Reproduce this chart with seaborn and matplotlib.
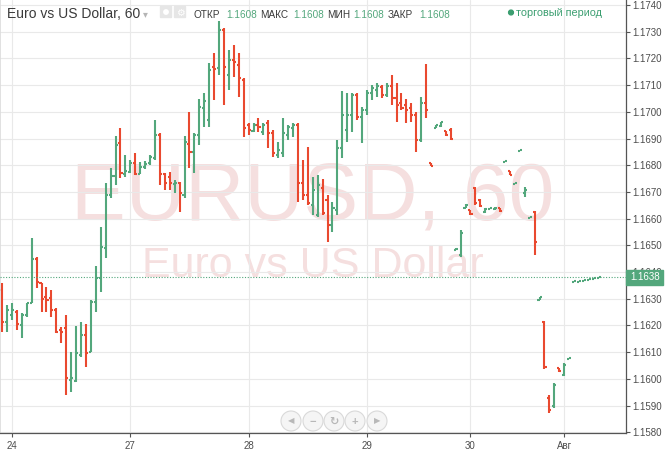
import numpy as np
import pandas as pd
import matplotlib
matplotlib.use('Agg')
import matplotlib.pyplot as plt
import seaborn as sns
from matplotlib.patches import Circle, Rectangle, FancyBboxPatch
from matplotlib.transforms import blended_transform_factory

# hourly EUR/USD bars, first bar is two hours before the "24" tick
first_bar = -2

opens = [
    1.16333, 1.16213, 1.16239, 1.16250, 1.16202, 1.16239, 1.16284, 1.16449, 1.16359, 1.16306,
    1.16303, 1.16258, 1.16183, 1.16190, 1.15996, 1.15992, 1.16089, 1.16164, 1.16100, 1.16288,
    1.16378, 1.16490, 1.16688, 1.16760, 1.16883, 1.16767, 1.16775, 1.16808, 1.16767, 1.16793,
    1.16808, 1.16827, 1.16913, 1.16767, 1.16756, 1.16730, 1.16733, 1.16688, 1.16879, 1.16849,
    1.16913, 1.17014, 1.16969, 1.17168, 1.17164, 1.17306, 1.17138, 1.17194, 1.17175, 1.17119,
    1.16951, 1.16928, 1.16951, 1.16924, 1.16958, 1.16921, 1.16838, 1.16846, 1.16913, 1.16939,
    1.16951, 1.16733, 1.16688, 1.16651, 1.16614, 1.16715, 1.16670, 1.16576, 1.16632, 1.16864,
    1.16932, 1.16988, 1.17063, 1.16981, 1.17007, 1.17070, 1.17082, 1.17093, 1.17063, 1.17097,
    1.17052, 1.17033, 1.17025, 1.17014, 1.16988, 1.16894, 1.17033, 1.16808, 1.16939, 1.16947,
    1.16928, 1.16932, 1.16483, 1.16464, 1.16640, 1.16632, 1.16715, 1.16670, 1.16625, 1.16636,
    1.16636, 1.16640, 1.16812, 1.16778, 1.16730, 1.16853, 1.16696, 1.16602, 1.16625, 1.16295,
    1.16213, 1.15928, 1.15898, 1.16041, 1.16014, 1.16074, 1.16363, 1.16363, 1.16366, 1.16370,
    1.16375, 1.16378,
]
highs = [
    1.16359, 1.16276, 1.16284, 1.16258, 1.16247, 1.16284, 1.16527, 1.16456, 1.16359, 1.16344,
    1.16333, 1.16265, 1.16194, 1.16239, 1.16100, 1.16198, 1.16213, 1.16205, 1.16295, 1.16423,
    1.16569, 1.16733, 1.16790, 1.16909, 1.16939, 1.16838, 1.16820, 1.16846, 1.16812, 1.16816,
    1.16838, 1.16969, 1.16921, 1.16771, 1.16775, 1.16745, 1.16737, 1.16909, 1.16999, 1.16921,
    1.17048, 1.17070, 1.17183, 1.17220, 1.17340, 1.17314, 1.17232, 1.17250, 1.17220, 1.17127,
    1.16958, 1.16958, 1.16977, 1.16958, 1.16969, 1.16932, 1.16887, 1.16977, 1.16951, 1.16958,
    1.16958, 1.16820, 1.16868, 1.16756, 1.16763, 1.16748, 1.16688, 1.16662, 1.16894, 1.17078,
    1.17070, 1.17070, 1.17070, 1.17018, 1.17082, 1.17100, 1.17108, 1.17100, 1.17108, 1.17138,
    1.17108, 1.17070, 1.17048, 1.17033, 1.16999, 1.17055, 1.17179, 1.16808, 1.16951, 1.16962,
    1.16928, 1.16939, 1.16490, 1.16557, 1.16655, 1.16632, 1.16718, 1.16673, 1.16640, 1.16640,
    1.16644, 1.16640, 1.16816, 1.16778, 1.16733, 1.16857, 1.16718, 1.16606, 1.16629, 1.16306,
    1.16217, 1.15939, 1.15984, 1.16041, 1.16059, 1.16078, 1.16366, 1.16366, 1.16370, 1.16375,
    1.16378, 1.16380,
]
lows = [
    1.16175, 1.16175, 1.16220, 1.16183, 1.16153, 1.16232, 1.16284, 1.16340, 1.16250, 1.16250,
    1.16232, 1.16172, 1.16134, 1.15939, 1.15951, 1.15988, 1.16082, 1.16044, 1.16100, 1.16250,
    1.16325, 1.16453, 1.16677, 1.16726, 1.16752, 1.16756, 1.16771, 1.16763, 1.16767, 1.16786,
    1.16801, 1.16820, 1.16726, 1.16707, 1.16707, 1.16696, 1.16625, 1.16677, 1.16790, 1.16771,
    1.16876, 1.16943, 1.16943, 1.17044, 1.17138, 1.17025, 1.17082, 1.17130, 1.17055, 1.16906,
    1.16913, 1.16924, 1.16924, 1.16913, 1.16864, 1.16831, 1.16827, 1.16831, 1.16894, 1.16906,
    1.16662, 1.16670, 1.16651, 1.16614, 1.16606, 1.16614, 1.16512, 1.16550, 1.16614, 1.16827,
    1.16887, 1.16924, 1.16969, 1.16883, 1.16988, 1.17044, 1.17055, 1.17052, 1.17055, 1.17025,
    1.16962, 1.17007, 1.16958, 1.16962, 1.16849, 1.16887, 1.16977, 1.16797, 1.16939, 1.16943,
    1.16909, 1.16894, 1.16483, 1.16456, 1.16640, 1.16614, 1.16651, 1.16644, 1.16621, 1.16636,
    1.16632, 1.16625, 1.16812, 1.16763, 1.16730, 1.16853, 1.16681, 1.16602, 1.16464, 1.16295,
    1.16037, 1.15872, 1.15891, 1.16026, 1.16011, 1.16074, 1.16363, 1.16363, 1.16366, 1.16370,
    1.16375, 1.16378,
]
closes = [
    1.16213, 1.16258, 1.16258, 1.16205, 1.16239, 1.16284, 1.16449, 1.16363, 1.16299, 1.16295,
    1.16258, 1.16175, 1.16175, 1.16003, 1.16003, 1.16097, 1.16164, 1.16097, 1.16288, 1.16378,
    1.16494, 1.16688, 1.16760, 1.16876, 1.16771, 1.16778, 1.16808, 1.16767, 1.16793, 1.16805,
    1.16831, 1.16913, 1.16767, 1.16733, 1.16733, 1.16733, 1.16696, 1.16887, 1.16849, 1.16913,
    1.17018, 1.17040, 1.17157, 1.17160, 1.17306, 1.17168, 1.17194, 1.17187, 1.17127, 1.16939,
    1.16932, 1.16951, 1.16943, 1.16951, 1.16921, 1.16846, 1.16857, 1.16921, 1.16943, 1.16951,
    1.16733, 1.16688, 1.16658, 1.16707, 1.16726, 1.16621, 1.16576, 1.16640, 1.16864, 1.16988,
    1.16988, 1.17063, 1.16981, 1.17007, 1.17070, 1.17089, 1.17097, 1.17063, 1.17097, 1.17052,
    1.17025, 1.17014, 1.17007, 1.16988, 1.16894, 1.17033, 1.17007, 1.16797, 1.16951, 1.16962,
    1.16913, 1.16898, 1.16486, 1.16546, 1.16651, 1.16617, 1.16658, 1.16647, 1.16636, 1.16640,
    1.16640, 1.16629, 1.16816, 1.16763, 1.16733, 1.16857, 1.16707, 1.16606, 1.16512, 1.16306,
    1.16044, 1.15883, 1.15977, 1.16029, 1.16052, 1.16078, 1.16366, 1.16366, 1.16370, 1.16375,
    1.16378, 1.16380,
]

day_ticks = [0, 24, 48, 72, 93, 112]
day_labels = ['24', '27', '28', '29', '30', 'Авг']
last_price = 1.1638
price_min, price_max = 1.15797, 1.17419
header_names = ['ОТКР', 'МАКС', 'МИН', 'ЗАКР']
header_values = ['1.1608', '1.1608', '1.1608', '1.1608']

UP = '#53a77c'
DOWN = '#e9492f'

sns.set_theme(style='white')
plt.rcParams['font.family'] = ['Liberation Sans', 'DejaVu Sans']

bars = pd.DataFrame({'open': opens, 'high': highs, 'low': lows, 'close': closes})
bars['x'] = np.arange(len(bars)) + first_bar
bars['dir'] = np.where(bars['close'] >= bars['open'], 'up', 'down')

# every bar = high-low stroke, open tick on the left, close tick on the right
w = 0.42
rows = []
for b in bars.itertuples():
    segs = [((b.x, b.low), (b.x, b.high)),
            ((b.x - w, b.open), (b.x, b.open)),
            ((b.x, b.close), (b.x + w, b.close))]
    for k, (p0, p1) in enumerate(segs):
        unit = f'{b.x}_{k}'
        rows.append({'unit': unit, 'x': p0[0], 'price': p0[1], 'dir': b.dir})
        rows.append({'unit': unit, 'x': p1[0], 'price': p1[1], 'dir': b.dir})
segs_df = pd.DataFrame(rows)

fig = plt.figure(figsize=(6.65, 4.53), dpi=100, facecolor='white')

# watermark sits below the chart
bg = fig.add_axes([0, 0, 1, 1], zorder=0)
bg.set_xlim(0, 665)
bg.set_ylim(453, 0)
bg.axis('off')
bg.text(313, 220, 'EURUSD, 60', fontsize=59, color='#f5dfdf', ha='center', va='baseline')
bg.text(313, 277, 'Euro vs US Dollar', fontsize=31, color='#f5dfdf', ha='center', va='baseline')

ax = fig.add_axes([0, 1 - 433 / 453, 625.5 / 665, 433 / 453], zorder=1)
ax.patch.set_alpha(0)

sns.lineplot(data=segs_df, x='x', y='price', units='unit', estimator=None, sort=False,
             hue='dir', palette={'up': UP, 'down': DOWN}, legend=False,
             lw=1.5, solid_capstyle='butt', ax=ax)

ax.axhline(last_price, color=UP, lw=0.8, ls=(0, (1, 1.5)), zorder=3)

ax.set_xlim(-2.43, 124.44)
ax.set_ylim(price_min, price_max)
ax.set_xticks(day_ticks, day_labels)
yt = np.round(np.arange(1158, 1175) / 1000, 4)
ax.set_yticks(yt, [f'{v:.4f}' for v in yt])
ax.yaxis.tick_right()
ax.set_xlabel('')
ax.set_ylabel('')
ax.grid(True, color='#e9e9e9', lw=0.8)
ax.set_axisbelow(True)

for side in ['right', 'bottom']:
    ax.spines[side].set_color('#555555')
    ax.spines[side].set_linewidth(0.9)
ax.spines['left'].set_color('#dddddd')
ax.spines['top'].set_visible(False)
ax.tick_params(axis='y', right=True, left=False, length=3, width=0.8, color='#555555',
               labelsize=7, labelcolor='#4d4d4d', pad=2)
ax.tick_params(axis='x', bottom=True, length=3, width=0.8, color='#555555',
               labelsize=7, labelcolor='#4d4d4d', pad=3)

# current price tag on the price scale
tr = blended_transform_factory(ax.transAxes, ax.transData)
ax.add_patch(Rectangle((1.001, last_price - 0.00027), 0.059, 0.00054, transform=tr,
                       color=UP, clip_on=False, zorder=10))
ax.text(1.031, last_price, f'{last_price:.4f}', transform=tr, color='white', fontsize=7,
        ha='center', va='center', zorder=11, clip_on=False)

# header, icons and navigation buttons
ov = fig.add_axes([0, 0, 1, 1], zorder=2)
ov.set_xlim(0, 665)
ov.set_ylim(453, 0)
ov.axis('off')

ov.text(7, 18, 'Euro vs US Dollar, 60', fontsize=10, color='#3a3a3a', va='baseline')
ov.text(143, 17, '▾', fontsize=7, color='#b5b5b5', va='baseline')
ov.add_patch(FancyBboxPatch((161, 7), 10, 10, boxstyle='round,pad=0.5', color='#e6e6e6'))
ov.add_patch(Circle((166, 12), 2.2, color='white'))
ov.add_patch(FancyBboxPatch((175, 7), 10, 10, boxstyle='round,pad=0.5', color='#e6e6e6'))
ov.text(180, 12.5, '⚙', fontsize=7, color='white', ha='center', va='center')

name_x = [194, 260, 327, 388]
value_x = [226, 293, 353, 419]
for nx, vx, name, val in zip(name_x, value_x, header_names, header_values):
    ov.text(nx, 17.5, name, fontsize=7.2, color='#3a3a3a', va='baseline')
    ov.text(vx, 17.5, val, fontsize=7.2, color=UP, va='baseline')

ov.add_patch(Circle((511, 12.5), 2.4, color='#3b9e70'))
ov.text(516, 15.5, 'торговый период', fontsize=7.8, color='#3b9e70', va='baseline')

for bx, glyph in zip([291, 313, 334, 355, 377], ['◀', '−', '↻', '+', '▶']):
    ov.add_patch(Circle((bx, 421), 10, facecolor='#f5f5f5', edgecolor='#d9d9d9', lw=0.8))
    ov.text(bx, 421.5, glyph, fontsize=8 if glyph in '−+↻' else 6, color='#b8b8b8',
            ha='center', va='center', fontweight='bold')

fig.savefig('out.png', dpi=100)
